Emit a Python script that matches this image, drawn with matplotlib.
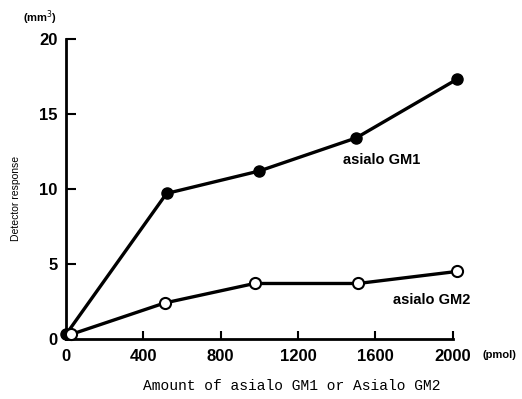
import matplotlib
matplotlib.use("Agg")
import matplotlib.pyplot as plt

# data
gm1_x = [0, 520, 1000, 1500, 2020]
gm1_y = [0.3, 9.7, 11.2, 13.4, 17.3]
gm2_x = [25, 510, 975, 1510, 2020]
gm2_y = [0.3, 2.4, 3.7, 3.7, 4.5]
xticks = [0, 400, 800, 1200, 1600, 2000]
yticks = [0, 5, 10, 15, 20]

plt.rcParams['font.family'] = ['Liberation Sans', 'DejaVu Sans']

fig = plt.figure(figsize=(5.22, 3.99), dpi=100)
ax = fig.add_axes([0.1264, 0.1504, 0.741, 0.752])

ax.plot(gm1_x, gm1_y, color='black', lw=2.4, marker='o', ms=8,
        mfc='black', mec='black', clip_on=False, zorder=3)
ax.plot(gm2_x, gm2_y, color='black', lw=2.4, marker='o', ms=8,
        mfc='white', mec='black', mew=1.5, clip_on=False, zorder=3)

ax.set_xlim(0, 2000)
ax.set_ylim(0, 20)
ax.spines['top'].set_visible(False)
ax.spines['right'].set_visible(False)
ax.spines['left'].set_linewidth(2)
ax.spines['bottom'].set_linewidth(2)

ax.set_xticks(xticks)
ax.set_yticks(yticks)
ax.tick_params(axis='x', direction='in', length=6, width=1.5, pad=7,
               labelsize=12)
ax.tick_params(axis='y', direction='in', length=7, width=1.5, pad=6,
               labelsize=12)
for lab in ax.get_xticklabels() + ax.get_yticklabels():
    lab.set_fontweight('bold')

ax.text(2155, -1.05, '(pmol)', fontsize=8, fontweight='bold',
        ha='left', va='center', clip_on=False)
ax.text(-0.11, 1.07, '(mm$^3$)', transform=ax.transAxes, fontsize=8,
        fontweight='bold', ha='left', va='center')
ax.text(-0.13, 0.47, 'Detector response', transform=ax.transAxes,
        fontsize=7.5, rotation=90, ha='center', va='center')

ax.text(1430, 11.9, 'asialo GM1', fontsize=10.5, fontweight='bold',
        ha='left', va='center')
ax.text(1690, 2.6, 'asialo GM2', fontsize=10.5, fontweight='bold',
        ha='left', va='center')

fig.text(292 / 522, 1 - 386 / 399, 'Amount of asialo GM1 or Asialo GM2',
         fontfamily='Liberation Mono', fontsize=10.5, ha='center',
         va='center')

fig.savefig('out.png', dpi=100)
